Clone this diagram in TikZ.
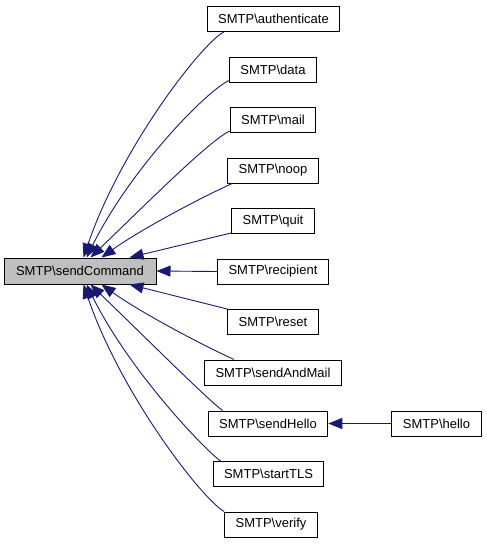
\documentclass[tikz,border=0pt]{standalone}
\usepackage{fontspec}
\setmainfont{Liberation Sans}
\usetikzlibrary{arrows.meta}
\definecolor{edgeblue}{HTML}{191970}
\definecolor{maingray}{HTML}{BFBFBF}
\tikzset{
  fn/.style={draw=black, line width=1pt, fill=white, minimum height=25pt, inner ysep=0pt, inner xsep=11pt, font=\fontsize{13}{15}\selectfont},
  mainfn/.style={fn, fill=maingray},
  calledge/.style={draw=edgeblue, line width=0.9pt, -{Triangle[length=14pt,width=11pt]}}
}
\begin{document}
\begin{tikzpicture}[x=1pt,y=-1pt]
\useasboundingbox (0,0) rectangle (487,544);
\node[mainfn, minimum width=152pt, minimum height=26pt] (main) at (80,271) {SMTP\textbackslash sendCommand};
\node[fn] (auth) at (273.5,19) {SMTP\textbackslash authenticate};
\node[fn] (data) at (273,69.5) {SMTP\textbackslash data};
\node[fn] (mail) at (273,120) {SMTP\textbackslash mail};
\node[fn] (noop) at (273,170.5) {SMTP\textbackslash noop};
\node[fn] (quit) at (273,221) {SMTP\textbackslash quit};
\node[fn] (recip) at (273,271.5) {SMTP\textbackslash recipient};
\node[fn] (reset) at (273,322) {SMTP\textbackslash reset};
\node[fn] (sam) at (273,372.5) {SMTP\textbackslash sendAndMail};
\node[fn] (shello) at (268,423.5) {SMTP\textbackslash sendHello};
\node[fn] (stls) at (268.5,474) {SMTP\textbackslash startTLS};
\node[fn] (verify) at (271,524.5) {SMTP\textbackslash verify};
\node[fn] (hello) at (436.5,423.5) {SMTP\textbackslash hello};

\draw[calledge] ([xshift=17pt]auth.south west) .. controls (200,45) and (120,150) .. ([xshift=80pt]main.north west);
\draw[calledge] ([yshift=2pt]data.south west) .. controls (205,92) and (130,170) .. ([xshift=83pt]main.north west);
\draw[calledge] ([yshift=2pt]mail.south west) .. controls (210,140) and (145,205) .. ([xshift=87pt]main.north west);
\draw[calledge] ([xshift=5pt]noop.south west) .. controls (200,198) and (140,230) .. ([xshift=98pt]main.north west);
\draw[calledge] ([yshift=1pt]quit.south west) -- ([xshift=126pt]main.north west);
\draw[calledge] (recip.west) -- (main.east);
\draw[calledge] (reset.north west) -- ([xshift=126pt]main.south west);
\draw[calledge] ([xshift=30pt]sam.north west) .. controls (200,344) and (140,312) .. ([xshift=98pt]main.south west);
\draw[calledge] ([xshift=15pt]shello.north west) .. controls (210,402) and (145,337) .. ([xshift=87pt]main.south west);
\draw[calledge] ([xshift=8pt]stls.north west) .. controls (205,450) and (130,372) .. ([xshift=83pt]main.south west);
\draw[calledge] (verify.north west) .. controls (200,497) and (120,392) .. ([xshift=80pt]main.south west);
\draw[calledge] (hello.west) -- (shello.east);
\end{tikzpicture}
\end{document}
